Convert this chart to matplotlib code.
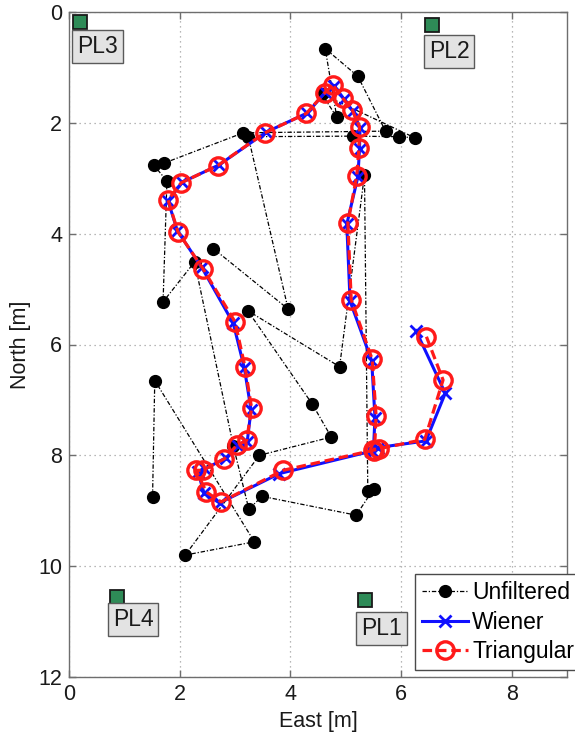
import matplotlib
matplotlib.use("Agg")
import matplotlib.pyplot as plt

plt.rcParams['font.family'] = ['Liberation Sans', 'DejaVu Sans']

# Raw position fixes (East, North) in metres
unfilt_east = [1.51, 1.55, 3.35, 2.10, 3.44, 4.74, 4.40, 3.23, 4.89, 5.34,
               5.40, 5.51, 5.19, 3.49, 3.25, 2.97, 2.27, 1.70, 1.77, 1.53,
               1.71, 3.15, 5.72, 5.22, 4.63, 4.84, 4.57, 6.25, 5.97, 5.13,
               3.24, 3.96, 2.61]
unfilt_north = [8.75, 6.65, 9.56, 9.80, 8.00, 7.67, 7.08, 5.39, 6.40, 2.94,
                8.64, 8.60, 9.08, 8.74, 8.97, 7.83, 4.51, 5.23, 3.05, 2.76,
                2.73, 2.18, 2.15, 1.16, 0.66, 1.90, 1.48, 2.27, 2.25, 2.24,
                2.25, 5.36, 4.27]

# Wiener-filtered track
wiener_east = [6.27, 6.80, 6.45, 5.58, 5.45, 3.80, 2.72, 2.44, 2.33, 2.45,
               2.83, 3.05, 3.22, 3.29, 3.17, 2.97, 2.40, 1.96, 1.79, 2.05,
               2.71, 3.56, 4.31, 4.63, 4.79, 4.97, 5.13, 5.26, 5.25, 5.22,
               5.02, 5.08, 5.47, 5.53, 5.50]
wiener_north = [5.75, 6.88, 7.74, 7.86, 7.93, 8.33, 8.86, 8.68, 8.30, 8.25,
                8.05, 7.83, 7.76, 7.18, 6.43, 5.62, 4.61, 3.95, 3.41, 3.07,
                2.76, 2.17, 1.82, 1.45, 1.33, 1.57, 1.79, 2.09, 2.48, 2.98,
                3.83, 5.22, 6.29, 7.32, 7.94]

# Triangular-filtered track
tri_east = [6.46, 6.76, 6.43, 5.61, 5.49, 3.87, 2.75, 2.48, 2.30, 2.42,
            2.81, 3.03, 3.21, 3.30, 3.18, 3.00, 2.42, 1.97, 1.79, 2.03,
            2.69, 3.54, 4.29, 4.62, 4.77, 4.95, 5.12, 5.25, 5.24, 5.20,
            5.04, 5.10, 5.48, 5.55, 5.52]
tri_north = [5.86, 6.64, 7.71, 7.88, 7.91, 8.27, 8.84, 8.66, 8.27, 8.27,
             8.06, 7.82, 7.73, 7.15, 6.40, 5.59, 4.63, 3.97, 3.39, 3.08,
             2.77, 2.18, 1.83, 1.46, 1.32, 1.56, 1.77, 2.07, 2.46, 2.96,
             3.80, 5.19, 6.27, 7.29, 7.92]

# Beacon locations
beacon_names = ['PL1', 'PL2', 'PL3', 'PL4']
beacon_east = [5.35, 6.56, 0.20, 0.86]
beacon_north = [10.61, 0.23, 0.18, 10.55]
label_offset_east = [-0.07, -0.06, -0.06, -0.07]
label_offset_north = [0.30, 0.28, 0.23, 0.20]

fig = plt.figure(figsize=(5.75, 7.36), dpi=100)
ax = fig.add_axes([69 / 575, 1 - 677 / 736, (567 - 69) / 575, (677 - 12) / 736])

ax.plot(unfilt_east, unfilt_north, color='black', linestyle='-.', linewidth=0.9,
        dashes=(3.5, 1.5, 1, 1.5),
        marker='o', markersize=8.5, markerfacecolor='black',
        markeredgecolor='black', label='Unfiltered', zorder=3)
ax.plot(wiener_east, wiener_north, color='#1010ff', linestyle='-', linewidth=2.2,
        marker='x', markersize=9, markeredgewidth=2.0, label='Wiener', zorder=4)
ax.plot(tri_east, tri_north, color='#ff1a1a', linestyle='--', linewidth=2.3,
        dashes=(3, 1.5), marker='o', markersize=12.5, markerfacecolor='none',
        markeredgewidth=2.4, label='Triangular', zorder=5)

for name, bx, by, ox, oy in zip(beacon_names, beacon_east, beacon_north,
                                 label_offset_east, label_offset_north):
    ax.plot(bx, by, marker='s', markersize=9.5, markerfacecolor='#2e8b57',
            markeredgecolor='#1a1a1a', markeredgewidth=1.3, linestyle='none',
            zorder=6)
    ax.text(bx + ox, by + oy, name, fontsize=16.5, ha='left', va='top',
            color='#1a1a1a', zorder=7,
            bbox=dict(boxstyle='square,pad=0.22', facecolor='#e3e3e3',
                      edgecolor='#5a5a5a', linewidth=1.0))

ax.set_xlim(0, 9)
ax.set_ylim(12, 0)
ax.set_xticks([0, 2, 4, 6, 8])
ax.set_yticks([0, 2, 4, 6, 8, 10, 12])
ax.grid(True, linestyle=(0, (1, 3)), color='#a0a0a0', linewidth=0.9)
ax.set_axisbelow(True)
for sp in ax.spines.values():
    sp.set_color('#6e6e6e')
    sp.set_linewidth(1.0)
ax.tick_params(direction='in', length=5, width=1.0, colors='#6e6e6e',
               labelcolor='#1a1a1a', labelsize=15.5, pad=5,
               top=True, right=True)
ax.set_xlabel('East [m]', fontsize=15.5, color='#1a1a1a', labelpad=4)
ax.set_ylabel('North [m]', fontsize=15.5, color='#1a1a1a', labelpad=5)

leg = ax.legend(loc='lower left', bbox_to_anchor=(415 / 575, 1 - 670 / 736),
                bbox_transform=fig.transFigure, borderaxespad=0,
                fontsize=16.5, frameon=True, fancybox=False,
                handlelength=2.0, handletextpad=0.2, borderpad=0.3,
                labelspacing=0.28)
leg.get_frame().set_edgecolor('#4a4a4a')
leg.get_frame().set_linewidth(1.0)
leg.get_frame().set_alpha(1)

fig.savefig('out.png', dpi=100)
